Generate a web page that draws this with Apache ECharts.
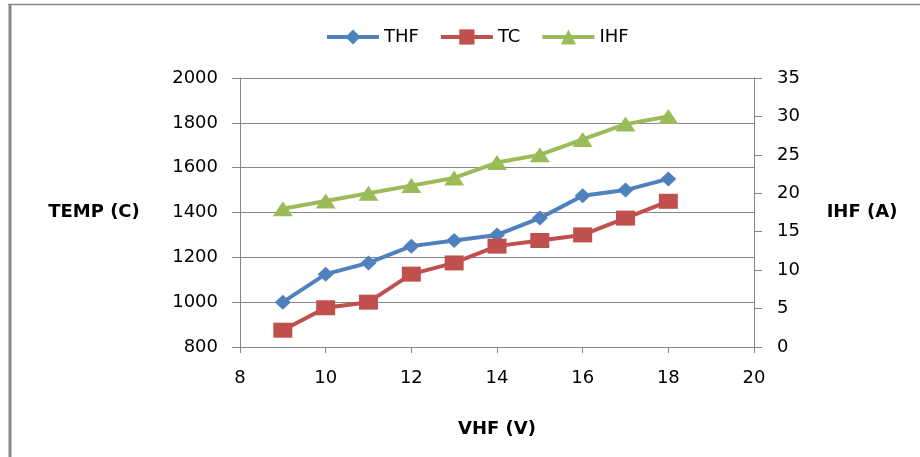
<!DOCTYPE html>
<html>
<head>
<meta charset="utf-8">
<script src="https://cdn.jsdelivr.net/npm/echarts@6/dist/echarts.min.js"></script>
<style>
  html, body { margin: 0; padding: 0; background: #fff; }
  #chart { width: 920px; height: 457px; }
</style>
</head>
<body>
<div id="chart"></div>
<script>
// values
var vhf = [9, 10, 11, 12, 13, 14, 15, 16, 17, 18];
var thf = [1000, 1125, 1175, 1250, 1275, 1300, 1375, 1475, 1500, 1550];
var tc = [875, 975, 1000, 1125, 1175, 1250, 1275, 1300, 1375, 1450];
var ihf = [18, 19, 20, 21, 22, 24, 25, 27, 29, 30];
var seriesNames = ["THF", "TC", "IHF"];

function pairs(xs, ys) {
    return xs.map(function (x, i) {
        return [x, ys[i]];
    });
}

function plain(v) {
    return String(v);
}

var axisGray = "#868686";
var font = "DejaVu Sans";

var myChart = echarts.init(document.getElementById("chart"));
var option = {
    animation: false,
    backgroundColor: "#fff",
    color: ["#4F81BD", "#C0504D", "#9BBB59"],
    textStyle: { fontFamily: font },
    legend: {
        data: seriesNames,
        left: 320,
        top: 23,
        itemWidth: 52,
        itemHeight: 19,
        itemGap: 20,
        lineStyle: { width: 4 },
        textStyle: { fontSize: 18, color: "#000", fontFamily: font },
    },
    grid: { left: 240, right: 166, top: 78, bottom: 110 },
    graphic: [
        {
            type: "line",
            shape: { x1: 10, y1: 4, x2: 10, y2: 457 },
            style: { stroke: "#888", lineWidth: 3 },
        },
        {
            type: "line",
            shape: { x1: 8, y1: 4.5, x2: 920, y2: 4.5 },
            style: { stroke: "#888", lineWidth: 1.5 },
        },
    ],
    xAxis: {
        type: "value",
        min: 8,
        max: 20,
        interval: 2,
        name: "VHF (V)",
        nameLocation: "middle",
        nameGap: 73,
        nameTextStyle: { fontSize: 18, fontWeight: "bold", color: "#000", fontFamily: font },
        axisLine: { lineStyle: { color: axisGray } },
        axisTick: { length: 6, lineStyle: { color: axisGray } },
        axisLabel: { fontSize: 18, color: "#000", margin: 22, fontFamily: font, formatter: plain },
        splitLine: { show: false },
    },
    yAxis: [
        {
            type: "value",
            min: 800,
            max: 2000,
            interval: 200,
            name: "TEMP (C)",
            nameLocation: "middle",
            nameRotate: 0,
            nameGap: 146,
            nameTextStyle: { fontSize: 18, fontWeight: "bold", color: "#000", align: "center", fontFamily: font },
            axisLine: { show: true, lineStyle: { color: axisGray } },
            axisTick: { show: true, length: 8, lineStyle: { color: axisGray } },
            axisLabel: { fontSize: 18, color: "#000", margin: 22, fontFamily: font, formatter: plain },
            splitLine: { show: true, lineStyle: { color: axisGray } },
        },
        {
            type: "value",
            min: 0,
            max: 35,
            interval: 5,
            position: "right",
            alignTicks: false,
            name: "IHF (A)",
            nameLocation: "middle",
            nameRotate: 0,
            nameGap: 108,
            nameTextStyle: { fontSize: 18, fontWeight: "bold", color: "#000", align: "center", fontFamily: font },
            axisLine: { show: true, lineStyle: { color: axisGray } },
            axisTick: { show: true, length: 8, lineStyle: { color: axisGray } },
            axisLabel: { fontSize: 18, color: "#000", margin: 23, fontFamily: font, formatter: plain },
            splitLine: { show: false },
        },
    ],
    series: [
        {
            name: "THF",
            type: "line",
            yAxisIndex: 0,
            data: pairs(vhf, thf),
            symbol: "diamond",
            symbolSize: [16, 15],
            lineStyle: { width: 4 },
        },
        {
            name: "TC",
            type: "line",
            yAxisIndex: 0,
            data: pairs(vhf, tc),
            symbol: "rect",
            symbolSize: [19, 15],
            lineStyle: { width: 4 },
        },
        {
            name: "IHF",
            type: "line",
            yAxisIndex: 1,
            data: pairs(vhf, ihf),
            symbol: "triangle",
            symbolSize: [20, 15],
            lineStyle: { width: 4 },
        },
    ],
};
myChart.setOption(option, true);
</script>
</body>
</html>
